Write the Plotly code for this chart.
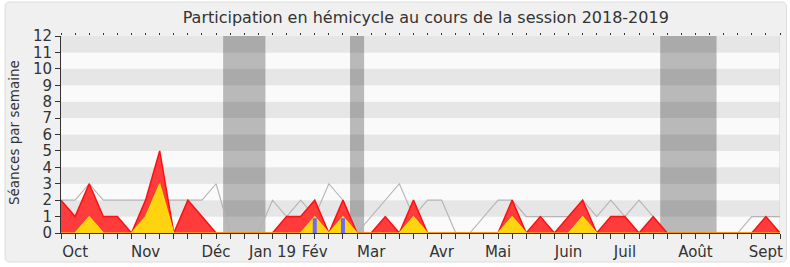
import plotly.graph_objects as go

weeks = list(range(52))
presence = [2, 1, 3, 1, 1, 0, 2, 5, 0, 2, 1, 0, 0, 0, 0, 0, 1, 1, 2, 0,
            2, 0, 0, 1, 0, 2, 0, 0, 0, 0, 0, 0, 2, 0, 1, 0, 1, 2, 0, 1,
            1, 0, 1, 0, 0, 0, 0, 0, 0, 0, 1, 0]
interventions = [0, 0, 1, 0, 0, 0, 1, 3, 0, 0, 0, 0, 0, 0, 0, 0, 0, 0, 1, 0,
                 1, 0, 0, 0, 0, 1, 0, 0, 0, 0, 0, 0, 1, 0, 0, 0, 0, 1, 0, 0,
                 0, 0, 0, 0, 0, 0, 0, 0, 0, 0, 0, 0]
mediane = [2, 2, 3, 2, 2, 2, 2, 2, 2, 2, 2, 3, 0, 0, 0, 2, 1, 2, 1, 3,
           2, 0, 1, 2, 3, 1, 2, 2, 0, 0, 1, 2, 2, 1, 1, 1, 1, 2, 1, 2,
           1, 2, 1, 0, 0, 0, 0, 0, 0, 1, 1, 1]
questions_weeks = [18, 20]
questions_vals = [0.9, 0.9]
vacances = [(11.5, 14.5), (20.5, 21.5), (42.5, 46.5)]
month_pos = [1, 6, 11, 15, 18, 22, 27, 31, 36, 40, 45, 50]
month_lab = ["Oct", "Nov", "Déc", "Jan 19", "Fév", "Mar", "Avr", "Mai", "Juin", "Juil", "Août", "Sept"]
yticks = list(range(13))

ticktext = ["" for _ in weeks]
for p, l in zip(month_pos, month_lab):
    ticktext[p] = l

FONT = "DejaVu Sans"
W, H = 790, 267
ML, MR, MT, MB = 61, 9.5, 36, 34
pw = W - ML - MR
ph = H - MT - MB

fig = go.Figure()

fig.add_trace(go.Scatter(x=weeks, y=mediane, mode="lines",
                         line=dict(color="#b4b4b4", width=1.1), hoverinfo="skip"))
fig.add_trace(go.Scatter(x=weeks, y=presence, mode="lines", fill="tozeroy",
                         fillcolor="#ff3b3b", line=dict(color="#ff1010", width=1.5)))
fig.add_trace(go.Scatter(x=weeks, y=interventions, mode="lines", fill="tozeroy",
                         fillcolor="#ffd30f", line=dict(color="#ffe000", width=1.2)))
qx, qy = [], []
for wk, v in zip(questions_weeks, questions_vals):
    qx += [wk, wk, None]
    qy += [0, v, None]
fig.add_trace(go.Scatter(x=qx, y=qy, mode="lines",
                         line=dict(color="#6a6aff", width=4)))
fig.add_trace(go.Scatter(x=[0, 51], y=[None, None], xaxis="x2", showlegend=False))

shapes = []
x0 = (5 - ML) / pw; x1 = (787 - ML) / pw
y0 = (H - MB - 262) / ph; y1 = (H - MB - 2) / ph
rx = 5 / pw; ry = 5 / ph
path = (f"M {x0+rx},{y0} L {x1-rx},{y0} Q {x1},{y0} {x1},{y0+ry} L {x1},{y1-ry} "
        f"Q {x1},{y1} {x1-rx},{y1} L {x0+rx},{y1} Q {x0},{y1} {x0},{y1-ry} "
        f"L {x0},{y0+ry} Q {x0},{y0} {x0+rx},{y0} Z")
shapes.append(dict(type="path", path=path, xref="paper", yref="paper", layer="below",
                   fillcolor="#f0f0f0", line=dict(color="#dcdcdc", width=1)))
for k in range(12):
    shapes.append(dict(type="rect", xref="x", yref="y", x0=0, x1=51, y0=k, y1=k + 1,
                       fillcolor="#e6e6e6" if k % 2 == 1 else "#fafafa",
                       line=dict(width=0), layer="below"))
for a, b in vacances:
    shapes.append(dict(type="rect", xref="x", yref="y", x0=a, x1=b, y0=0, y1=12,
                       fillcolor="rgba(0,0,0,0.26)", line=dict(width=0), layer="below"))
shapes.append(dict(type="line", xref="x", yref="y", x0=51, x1=51, y0=0, y1=12,
                   line=dict(color="#d4d4d4", width=1), layer="below"))

fig.update_layout(
    width=W, height=H,
    margin=dict(l=ML, r=MR, t=MT, b=MB, pad=0, autoexpand=False),
    paper_bgcolor="white", plot_bgcolor="rgba(0,0,0,0)",
    showlegend=False,
    shapes=shapes,
    font=dict(family=FONT, color="#333333", size=14),
    title=dict(text="Participation en hémicycle au cours de la session 2018-2019",
               x=(426 - ML) / pw, xref="paper", xanchor="center",
               y=1 - 17 / H, yref="container", yanchor="middle",
               font=dict(family=FONT, size=16, color="#333333")),
    xaxis=dict(range=[0, 51], tickvals=weeks, ticktext=ticktext, ticks="outside",
               ticklen=5, tickcolor="#333333", showgrid=False, zeroline=False,
               showline=True, linecolor="#333333", linewidth=1, automargin=False,
               tickfont=dict(size=15, family=FONT, color="#333333")),
    xaxis2=dict(range=[0, 51], overlaying="x", side="top", tickvals=weeks,
                ticks="outside", ticklen=2, tickcolor="#333333", showticklabels=False,
                showgrid=False, zeroline=False, showline=False, automargin=False),
    yaxis=dict(range=[0, 12], tickvals=yticks, ticks="outside", ticklen=5,
               tickcolor="#333333", showgrid=False, zeroline=False, showline=True,
               linecolor="#333333", linewidth=1, automargin=False,
               tickfont=dict(size=15, family=FONT, color="#333333")),
    annotations=[dict(text="Séances par semaine", textangle=-90, xref="paper", yref="paper",
                      x=(14 - ML) / pw, y=(H - MB - 133) / ph, showarrow=False,
                      xanchor="center", yanchor="middle",
                      font=dict(family=FONT, size=13.5, color="#333333"))],
)

fig.write_html("out.html", config={"displayModeBar": False},
               post_script="document.body.style.margin='0';document.body.style.overflow='hidden';")
